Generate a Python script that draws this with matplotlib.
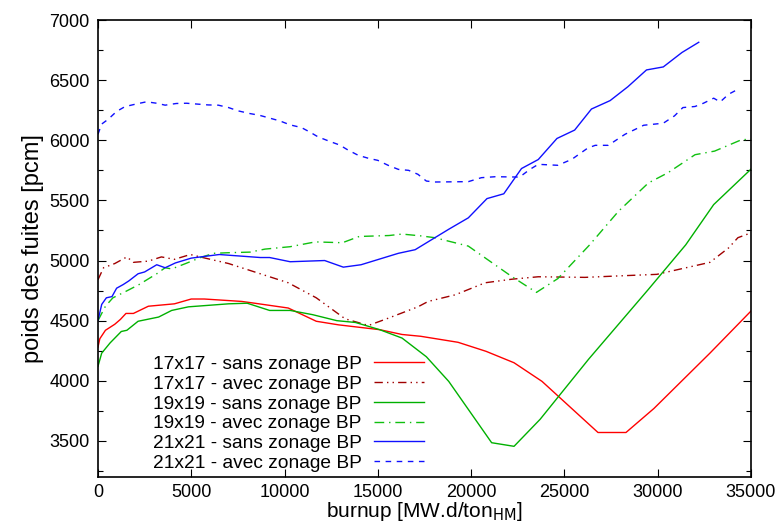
import matplotlib
matplotlib.use("Agg")
import matplotlib.pyplot as plt
from matplotlib.ticker import MultipleLocator

plt.rcParams["font.family"] = ["Liberation Sans", "DejaVu Sans"]

# ── data ──────────────────────────────────────────────────────────────────
x_17_sans = [0, 100, 400, 900, 1200, 1500, 1900, 2700, 4100, 5000, 5700, 7700, 8400,
             10200, 11700, 12900, 15100, 16300, 17300, 19300, 20800, 22300, 23800,
             26800, 28300, 29800, 32800, 35000]
y_17_sans = [4280, 4350, 4420, 4470, 4510, 4560, 4560, 4620, 4640, 4680, 4680, 4660, 4645,
             4605, 4495, 4465, 4425, 4385, 4370, 4320, 4245, 4150, 3995,
             3570, 3570, 3770, 4230, 4580]

x_17_avec = [0, 300, 900, 1550, 1900, 2700, 3400, 4100, 4950, 5750, 7000, 8400, 10200,
             11700, 13250, 14500, 15550, 17150, 17700, 19150, 20750, 22200, 23600,
             26100, 28350, 29950, 32800, 33800, 34300, 35000]
y_17_avec = [4840, 4940, 4975, 5030, 4985, 4995, 5030, 5010, 5050, 5020, 4975, 4905, 4815,
             4690, 4515, 4460, 4520, 4615, 4660, 4715, 4815, 4845, 4865,
             4860, 4875, 4885, 4985, 5105, 5190, 5230]

x_19_sans = [0, 200, 650, 1250, 1550, 2150, 3250, 3950, 4850, 7000, 8000, 9200, 10300,
             11500, 12800, 13800, 15100, 16300, 17600, 18800, 21100, 22300, 23700,
             26300, 29500, 31500, 33000, 35000]
y_19_sans = [4120, 4230, 4315, 4410, 4420, 4495, 4530, 4585, 4615, 4640, 4645, 4585, 4585,
             4550, 4500, 4485, 4425, 4355, 4200, 3995, 3485, 3455, 3680,
             4180, 4760, 5130, 5465, 5760]

x_19_avec = [0, 400, 800, 1450, 2200, 3150, 3600, 3950, 4700, 5500, 6200, 7000, 8150,
             8950, 10300, 11650, 13100, 14000, 15600, 16300, 17300, 18050, 19850,
             22150, 23500, 24650, 26350, 27900, 29500, 30550, 32000, 33050, 34500, 35000]
y_19_avec = [4500, 4620, 4690, 4740, 4800, 4890, 4940, 4930, 4975, 5025, 5060, 5065, 5070,
             5095, 5115, 5155, 5148, 5200, 5208, 5220, 5205, 5190, 5120,
             4870, 4735, 4850, 5130, 5410, 5645, 5730, 5880, 5910, 6005, 6008]

x_21_sans = [0, 200, 450, 750, 1000, 1350, 1650, 2150, 2500, 3150, 3600, 4150, 5000,
             6500, 8700, 9200, 10300, 12150, 13150, 14100, 16100, 17000, 18800, 19850,
             20850, 21750, 22700, 23600, 24600, 25550, 26450, 27450, 28400, 29400,
             30300, 31300, 32200]
y_21_sans = [4500, 4635, 4690, 4700, 4770, 4800, 4830, 4890, 4905, 4965, 4940, 4980, 5020,
             5050, 5025, 5025, 4990, 5000, 4945, 4965, 5060, 5090, 5260, 5355,
             5515, 5555, 5765, 5840, 6015, 6085, 6260, 6330, 6445, 6585,
             6610, 6730, 6815]

x_21_avec = [0, 200, 550, 1000, 1450, 2000, 2600, 3150, 3600, 4200, 4750, 5900, 6450,
             7000, 7500, 8150, 8650, 9750, 10300, 10900, 11350, 11800, 12450, 12950,
             13400, 13950, 14500, 15000, 15550, 16100, 16650, 17150, 17600, 18050,
             19850, 20550, 21300, 22600, 23150, 23600, 24650, 25400, 26250, 26650,
             27350, 28250, 29250, 30300, 30900, 31350, 32000, 32450, 33000, 33350,
             33800, 34250]
y_21_avec = [6050, 6135, 6175, 6240, 6280, 6300, 6320, 6308, 6292, 6306, 6308, 6294, 6292,
             6272, 6245, 6222, 6208, 6161, 6128, 6106, 6069, 6028, 5989, 5961,
             5919, 5875, 5850, 5833, 5792, 5758, 5750, 5717, 5661, 5653,
             5656, 5689, 5697, 5694, 5758, 5800, 5792, 5842, 5935, 5958,
             5958, 6050, 6125, 6142, 6203, 6272, 6281, 6308, 6350, 6319,
             6383, 6420]

labels = ["17x17 - sans zonage BP", "17x17 - avec zonage BP",
          "19x19 - sans zonage BP", "19x19 - avec zonage BP",
          "21x21 - sans zonage BP", "21x21 - avec zonage BP"]

# ── figure ─────────────────────────────────────────────────────────────────
fig = plt.figure(figsize=(7.8, 5.27), dpi=100)
ax = fig.add_axes([0.1256, 0.0949, 0.8372, 0.8671])

lw = 1.0
ax.plot(x_17_sans, y_17_sans, color="#ff0000", lw=lw, label=labels[0])
ax.plot(x_17_avec, y_17_avec, color="#a00000", lw=lw,
        linestyle=(0, (6, 3, 1, 3, 1, 3)), label=labels[1])
ax.plot(x_19_sans, y_19_sans, color="#00b000", lw=lw, label=labels[2])
ax.plot(x_19_avec, y_19_avec, color="#10c010", lw=lw,
        linestyle=(0, (7, 3.5, 1, 3.5)), label=labels[3])
ax.plot(x_21_sans, y_21_sans, color="#1010ff", lw=lw, label=labels[4])
ax.plot(x_21_avec, y_21_avec, color="#1010ff", lw=lw,
        linestyle=(0, (4, 4)), label=labels[5])

ax.set_xlim(0, 35000)
ax.set_ylim(3200, 7000)
ax.xaxis.set_major_locator(MultipleLocator(5000))
ax.yaxis.set_major_locator(MultipleLocator(500))
ax.yaxis.set_minor_locator(MultipleLocator(250))
ax.tick_params(which="both", direction="in", top=True, right=True, labelsize=13)
ax.tick_params(which="major", length=6, width=0.8)
ax.tick_params(which="minor", length=3.5, width=0.8)
ax.tick_params(axis="x", pad=5)
ax.tick_params(axis="y", pad=6)
for sp in ax.spines.values():
    sp.set_linewidth(1.2)

ax.set_xlabel("burnup [MW.d/ton$_{\\mathrm{HM}}$]", fontsize=15, labelpad=-1)
ax.set_ylabel("poids des fuites [pcm]", fontsize=17, labelpad=4)

ax.legend(loc="lower right", bbox_to_anchor=(0.523, -0.022), frameon=False,
          markerfirst=False, fontsize=13.8, handlelength=2.6, handletextpad=0.65,
          labelspacing=0.12, borderpad=0.3)

fig.savefig("out.png", dpi=100)
